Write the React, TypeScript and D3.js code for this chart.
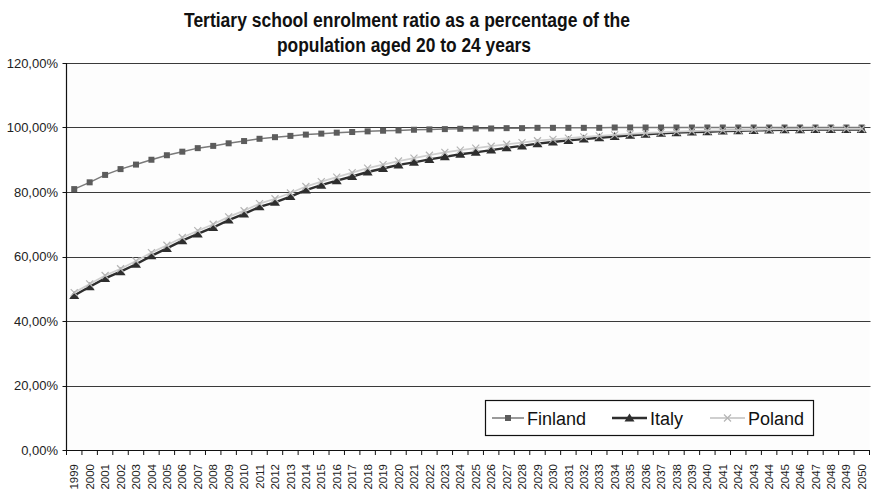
import React from "react";
import * as d3 from "d3";

const years: string[] = d3.range(1999, 2051).map(String);

const finland: number[] = [
  80.9, 83.0, 85.3, 87.1, 88.5, 90.0, 91.4, 92.5, 93.6, 94.3, 95.1, 95.8, 96.5,
  97.0, 97.4, 97.8, 98.1, 98.4, 98.6, 98.8, 99.0, 99.1, 99.3, 99.4, 99.5, 99.6,
  99.7, 99.7, 99.8, 99.8, 99.9, 99.9, 99.9, 99.9, 99.9, 100.0, 100.0, 100.0,
  100.0, 100.0, 100.0, 100.0, 100.0, 100.0, 100.0, 100.0, 100.0, 100.0, 100.0,
  100.0, 100.0, 100.0,
];

const italy: number[] = [
  47.9, 50.6, 53.2, 55.3, 57.6, 60.2, 62.5, 64.9, 67.0, 69.0, 71.3, 73.2, 75.4,
  76.8, 78.6, 80.6, 82.1, 83.5, 84.8, 86.2, 87.3, 88.4, 89.2, 90.1, 90.9, 91.7,
  92.3, 93.0, 93.7, 94.3, 95.0, 95.5, 96.0, 96.4, 96.8, 97.2, 97.6, 97.9, 98.2,
  98.4, 98.6, 98.7, 98.9, 99.0, 99.1, 99.2, 99.3, 99.3, 99.4, 99.4, 99.4, 99.4,
];

const poland: number[] = [
  48.8, 51.5, 54.1, 56.2, 58.6, 61.2, 63.5, 65.9, 68.0, 70.0, 72.3, 74.2, 76.4,
  77.9, 79.7, 81.7, 83.2, 84.6, 86.0, 87.4, 88.5, 89.6, 90.5, 91.4, 92.3, 93.0,
  93.6, 94.2, 94.8, 95.3, 95.9, 96.3, 96.7, 97.1, 97.4, 97.7, 98.0, 98.3, 98.5,
  98.7, 98.9, 99.0, 99.1, 99.2, 99.3, 99.4, 99.5, 99.5, 99.6, 99.6, 99.6, 99.6,
];

const yTicks: number[] = [0, 20, 40, 60, 80, 100, 120];
const titleLines: string[] = [
  "Tertiary school enrolment ratio as a percentage of the",
  "population aged 20 to 24 years",
];
const seriesNames: string[] = ["Finland", "Italy", "Poland"];

const W = 871;
const H = 491;
const left = 66.5;
const right = 869.5;
const top = 63;
const bottom = 450;
const font = "'Liberation Sans', Arial, sans-serif";

export default function App() {
  const x = d3.scaleBand<string>().domain(years).range([left, right]).padding(0);
  const cx = (d: string) => (x(d) as number) + x.bandwidth() / 2;
  const y = d3.scaleLinear().domain([0, 120]).range([bottom, top]);

  const line = (vals: number[]) =>
    d3
      .line<number>()
      .x((_, i) => cx(years[i]))
      .y((v) => y(v))(vals) as string;

  const square = (px: number, py: number, key: string, fill: string) => (
    <rect key={key} x={px - 3} y={py - 3} width={6} height={6} fill={fill} />
  );
  const tri = (px: number, py: number, key: string, fill: string) => (
    <path
      key={key}
      d={`M${px},${py - 4.5}L${px + 5},${py + 3.5}L${px - 5},${py + 3.5}Z`}
      fill={fill}
    />
  );
  const cross = (px: number, py: number, key: string, stroke: string) => (
    <path
      key={key}
      d={`M${px - 3.5},${py - 3.5}L${px + 3.5},${py + 3.5}M${px + 3.5},${py - 3.5}L${px - 3.5},${py + 3.5}`}
      stroke={stroke}
      strokeWidth={1.2}
      fill="none"
    />
  );

  const boundaries = d3.range(years.length + 1).map((i) => left + i * x.bandwidth());

  return (
    <svg
      width={W}
      height={H}
      style={{ position: "absolute", left: 0, top: 0, background: "#fff" }}
      fontFamily={font}
    >
      {/* title */}
      <text
        x={407}
        y={27}
        textAnchor="middle"
        fontSize={20}
        fontWeight="bold"
        fill="#111"
        textLength={446}
        lengthAdjust="spacingAndGlyphs"
      >
        {titleLines[0]}
      </text>
      <text
        x={404}
        y={52}
        textAnchor="middle"
        fontSize={20}
        fontWeight="bold"
        fill="#111"
        textLength={254}
        lengthAdjust="spacingAndGlyphs"
      >
        {titleLines[1]}
      </text>

      {/* plot area */}
      <rect x={left} y={top} width={right - left} height={bottom - top} fill="#fdfdfd" />

      {/* gridlines */}
      {yTicks
        .filter((t) => t > 0)
        .map((t) => (
          <line
            key={`g${t}`}
            x1={left}
            x2={right + 1}
            y1={Math.round(y(t)) + 0.5}
            y2={Math.round(y(t)) + 0.5}
            stroke="#3a3a3a"
            strokeWidth={1}
          />
        ))}

      {/* y axis */}
      <line x1={left} x2={left} y1={top} y2={bottom} stroke="#111" strokeWidth={1.2} />
      {yTicks.map((t) => (
        <g key={`y${t}`}>
          <line
            x1={left - 4}
            x2={left}
            y1={Math.round(y(t)) + 0.5}
            y2={Math.round(y(t)) + 0.5}
            stroke="#111"
          />
          <text
            x={58}
            y={y(t)}
            dy="0.36em"
            textAnchor="end"
            fontSize={13}
            fill="#222"
          >
            {`${t},00%`}
          </text>
        </g>
      ))}

      {/* x axis */}
      <line x1={left} x2={right} y1={bottom + 0.5} y2={bottom + 0.5} stroke="#111" strokeWidth={1.2} />
      {boundaries.map((bx, i) => (
        <line key={`xt${i}`} x1={bx} x2={bx} y1={bottom} y2={bottom + 5} stroke="#111" />
      ))}
      {years.map((yr) => (
        <text
          key={`xl${yr}`}
          transform={`translate(${cx(yr)},464) rotate(-90)`}
          textAnchor="end"
          dy="0.36em"
          fontSize={11.5}
          fill="#222"
        >
          {yr}
        </text>
      ))}

      {/* Finland */}
      <path d={line(finland)} fill="none" stroke="#7a7a7a" strokeWidth={1.5} />
      {finland.map((v, i) => square(cx(years[i]), y(v), `f${i}`, "#5c5c5c"))}

      {/* Italy */}
      <path d={line(italy)} fill="none" stroke="#2e2e2e" strokeWidth={2.4} />
      {italy.map((v, i) => tri(cx(years[i]), y(v), `i${i}`, "#2e2e2e"))}

      {/* Poland */}
      <path d={line(poland)} fill="none" stroke="#cfcfcf" strokeWidth={1.8} />
      {poland.map((v, i) => cross(cx(years[i]), y(v), `p${i}`, "#b5b5b5"))}

      {/* legend */}
      <rect x={485.5} y={400.5} width={328} height={35} fill="#fff" stroke="#111" strokeWidth={1.2} />
      <line x1={492} x2={524} y1={418} y2={418} stroke="#7a7a7a" strokeWidth={1.5} />
      {square(508, 418, "lf", "#5c5c5c")}
      <text x={527} y={424.5} fontSize={18} fill="#111">{seriesNames[0]}</text>
      <line x1={612} x2={647} y1={418} y2={418} stroke="#2e2e2e" strokeWidth={2.4} />
      {tri(629.5, 418, "li", "#2e2e2e")}
      <text x={650} y={424.5} fontSize={18} fill="#111">{seriesNames[1]}</text>
      <line x1={710} x2={745} y1={418} y2={418} stroke="#cfcfcf" strokeWidth={1.8} />
      {cross(727.5, 418, "lp", "#b5b5b5")}
      <text x={748} y={424.5} fontSize={18} fill="#111">{seriesNames[2]}</text>
    </svg>
  );
}
